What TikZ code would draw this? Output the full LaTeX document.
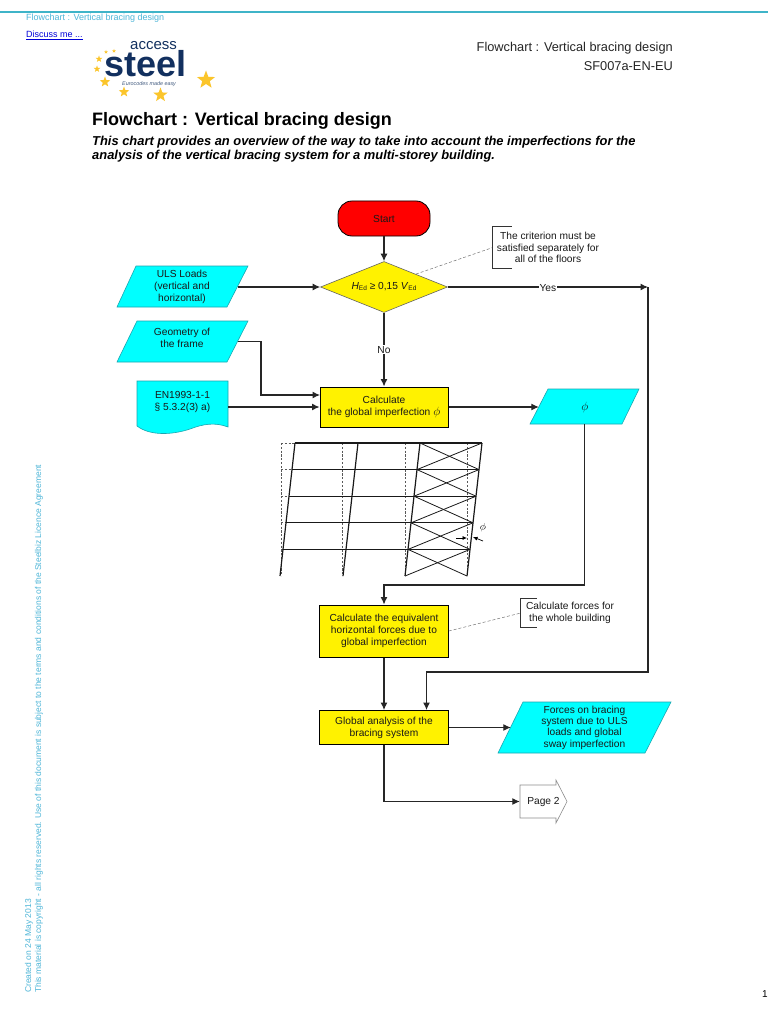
\documentclass[tikz,border=0pt]{standalone}
\usepackage{fontspec}
\setmainfont{Liberation Sans}
\usetikzlibrary{shapes.geometric,arrows.meta,calc}
\definecolor{headblue}{HTML}{4FB6D8}
\definecolor{barteal}{HTML}{3FB4C8}
\definecolor{navy}{HTML}{12305F}
\definecolor{starc}{HTML}{FBC52B}
\definecolor{cyanf}{HTML}{00FFFF}
\definecolor{cyand}{HTML}{1AA6B0}
\newcommand{\phisym}{{\fontsize{12}{12}\selectfont$\phi$}}
\tikzset{
  lab/.style={inner sep=0pt,align=center,font=\fontsize{10.2}{12}\selectfont,text=black!90},
  boxy/.style={lab,draw=black,line width=1pt,fill=yellow,minimum width=#1},
  para/.style={fill=cyanf,draw=cyand,line width=0.6pt},
  flow/.style={line width=1.1pt,draw=black!85,-{Latex[length=7.5pt,width=7pt]}},
  leader/.style={line width=0.5pt,draw=black!55,densely dashed},
  brack/.style={line width=1pt,draw=black!80},
  col/.style={line width=1.2pt,draw=black!90},
  ghost/.style={line width=0.9pt,draw=black!65,dash pattern=on 2.2pt off 1.6pt},
  starn/.style={star,star points=5,star point ratio=2.4,fill=starc,inner sep=0pt,minimum size=#1},
  head/.style={inner sep=0pt,text=headblue,font=\fontsize{9}{10}\selectfont},
}
\begin{document}
\begin{tikzpicture}[x=1pt,y=-1pt]
\useasboundingbox (0,0) rectangle (768,1024);
\fill[white] (0,0) rectangle (768,1024);
% header
\coordinate (barl) at (0,12); \coordinate (barr) at (768,12);
\draw[barteal,line width=1.2pt] (barl) -- (barr);
\node[head,anchor=west] (hd) at (26,18) {Flowchart : Vertical bracing design};
\node[head,anchor=west,text=blue!85!black] (disc) at (26,35) {\underline{Discuss me ...}};
\node[inner sep=0pt,anchor=east,font=\fontsize{12.8}{14}\selectfont,text=black!85] (hr1) at (673,48) {Flowchart : Vertical bracing design};
\node[inner sep=0pt,anchor=east,font=\fontsize{12.8}{14}\selectfont,text=black!85] (hr2) at (673,66) {SF007a-EN-EU};
% logo
\node[inner sep=0pt,anchor=base west,text=navy,font=\fontsize{15}{16}\selectfont] (lg1) at (130,49.5) {access};
\node[inner sep=0pt,anchor=base west,text=navy,font=\fontsize{36}{36}\bfseries\selectfont] (lg2) at (104.5,77) {steel};
\node[inner sep=0pt,anchor=west,text=navy!80,font=\fontsize{5.4}{6}\itshape\selectfont] (lg3) at (122,84.5) {Eurocodes made easy};
\node[starn=4] (s1) at (106,52) {}; \node[starn=4] (s2) at (114,51) {};
\node[starn=7] (s3) at (99,59) {}; \node[starn=7] (s4) at (97,69) {};
\node[starn=11] (s5) at (105,82) {}; \node[starn=11] (s6) at (124,92) {};
\node[starn=15] (s7) at (160.5,95) {}; \node[starn=19] (s8) at (206,80) {};
% title
\node[inner sep=0pt,anchor=base west,font=\fontsize{18}{20}\bfseries\selectfont] (title) at (92,126) {Flowchart : Vertical bracing design};
\node[inner sep=0pt,anchor=west,align=left,font=\fontsize{12.9}{14}\bfseries\itshape\selectfont] (sub) at (92,149)
 {This chart provides an overview of the way to take into account the imperfections for the\\analysis of the vertical bracing system for a multi-storey building.};
% margin
\node[inner sep=0pt,anchor=west,rotate=90,text=headblue,font=\fontsize{8.5}{10}\selectfont] (m1) at (29,993) {Created on 24 May 2013};
\node[inner sep=0pt,anchor=west,rotate=90,text=headblue,font=\fontsize{8.5}{10}\selectfont] (m2) at (39,993) {This material is copyright - all rights reserved. Use of this document is subject to the terms and conditions of the Steelbiz Licence Agreement};
\node[inner sep=0pt,font=\fontsize{10}{12}\selectfont] (pg) at (765,994) {1};
% shapes behind text
\path[para] (136,266) -- (248,266) -- (227,307) -- (117,307) -- cycle;
\path[para] (137,321) -- (248,321) -- (227,362) -- (117,362) -- cycle;
\path[para] (137,381) -- (228,381) -- (228,427) .. controls (215,422) and (203,424) .. (190,429) .. controls (172,435) and (150,436) .. (137,426) -- cycle;
\path[para] (548,389) -- (639,389) -- (622,424) -- (530,424) -- cycle;
\path[para] (523,702) -- (671,702) -- (645,753) -- (498,753) -- cycle;
\path[fill=white,draw=black!45,line width=0.6pt] (520,785) -- (556,785) -- (556,780) -- (567,801.5) -- (556,823) -- (556,818) -- (520,818) -- cycle;
% nodes
\node[lab,draw=black,line width=0.8pt,fill=red,rounded corners=14pt,minimum width=92pt,minimum height=35pt] (start) at (384,218.5) {Start};
\node[lab,draw=black!60,line width=0.6pt,fill=yellow,diamond,aspect=2.5,minimum width=127pt,minimum height=51pt] (crit) at (384,287)
 {\textit{H}\raisebox{-1pt}{\fontsize{6.5}{7}\selectfont Ed} ≥ 0,15 \textit{V}\raisebox{-1pt}{\fontsize{6.5}{7}\selectfont Ed}};
\node[lab,minimum width=111pt,minimum height=41pt] (uls) at (182,287) {ULS Loads\\(vertical and\\horizontal)};
\node[lab,minimum width=111pt,minimum height=41pt] (geo) at (182,341.5) {Geometry of\\the frame\\[-4pt]\mbox{}};
\node[lab,minimum width=91pt,minimum height=52pt] (en) at (182.5,407) {EN1993-1-1\\§ 5.3.2(3) a)\\\mbox{}};
\node[boxy=128pt,minimum height=40pt] (calc) at (384,407) {Calculate\\the global imperfection \phisym};
\node[lab,minimum width=91.5pt,minimum height=34pt] (phi) at (584.75,407) {\phisym};
\node[boxy=128.5pt,minimum height=52pt] (eq) at (384,631) {Calculate the equivalent\\horizontal forces due to\\global imperfection};
\node[boxy=128.5pt,minimum height=34pt] (glob) at (384,727.5) {Global analysis of the\\bracing system};
\node[lab,minimum width=147pt,minimum height=51pt,font=\fontsize{10.2}{11.4}\selectfont] (res) at (584.5,727.5) {Forces on bracing\\system  due to ULS\\loads and global\\sway imperfection};
\node[lab,minimum width=47pt,minimum height=33pt] (page) at (543.5,801.5) {Page 2};
\node[lab,minimum width=110pt,minimum height=41pt,font=\fontsize{10.2}{11.6}\selectfont] (n1) at (548,247.5) {The criterion must be\\satisfied separately for\\all of the floors};
\node[lab,minimum width=98pt,minimum height=28pt] (n2) at (570,613) {Calculate forces for\\the whole building};
% connectors
\coordinate (yc) at (648,287);
\coordinate (yd) at (648,672);
\coordinate (gin) at ($(glob.north)+(42.5,0)$);
\coordinate (tg) at (261,395);
\coordinate (cin) at (320,395);
\coordinate (tp) at (384,585);
\draw[flow] (start) -- (crit);
\draw[flow] (uls.east) -- (crit.west);
\draw[flow] (crit.south) -- node[lab,fill=white,inner ysep=1pt,inner xsep=0pt] (no) {No} (calc.north);
\draw[flow] (crit.east) -- node[lab,fill=white,inner ysep=0pt,inner xsep=0.5pt,yshift=-1pt] (yes) {Yes} (yc);
\draw[flow] (geo.east) -| (tg) -- (cin);
\draw[flow] (en.east) -- (calc.west);
\draw[flow] (calc.east) -- (phi.west);
\draw[flow] (phi.south) |- (tp) -- (eq.north);
\draw[flow] (eq.south) -- (glob.north);
\draw[flow] (yc) -- (yd) -| (gin);
\draw[flow] (glob.east) -- (res.west);
\draw[flow] (glob.south) |- (page.west);
\draw[leader] (crit.north east) -- (n1.west);
\draw[leader] (eq.east) -- (n2.west);
\draw[brack] ($(n1.north west)+(19,0)$) -- (n1.north west) -- (n1.south west) -- ($(n1.south west)+(19,0)$);
\draw[brack] ($(n2.north west)+(16,0)$) -- (n2.north west) -- (n2.south west) -- ($(n2.south west)+(16,0)$);
% frame
\coordinate (a1) at (295,443); \coordinate (b1) at (280,576);
\coordinate (a2) at (358,443); \coordinate (b2) at (343,576);
\coordinate (a3) at (420,443); \coordinate (b3) at (405,576);
\coordinate (a4) at (482,443); \coordinate (b4) at (467,576);
\coordinate (g1a) at (281,443); \coordinate (g1b) at (281,576);
\coordinate (g2a) at (342,443); \coordinate (g2b) at (342,576);
\coordinate (g3a) at (405,443); \coordinate (g3b) at (405,576);
\coordinate (g4a) at (467,443); \coordinate (g4b) at (467,576);
\foreach \i in {1,2,3,4}{\draw[ghost] (g\i a) -- (g\i b);}
\draw[ghost] (g1a) -- (a4);
\foreach \t in {0.2,0.4,0.6,0.8}{\draw[ghost] ($(g1a)!\t!(g1b)$) -- ($(a1)!\t!(b1)$);}
\foreach \i in {1,2,3,4}{\draw[col] (a\i) -- (b\i);}
\foreach \t in {0,0.2,0.4,0.6,0.8}{\draw[col] ($(a1)!\t!(b1)$) -- ($(a4)!\t!(b4)$);}
\foreach \t/\u in {0/0.2,0.2/0.4,0.4/0.6,0.6/0.8,0.8/1}{
  \draw[line width=0.8pt,black!90] ($(a3)!\t!(b3)$) -- ($(a4)!\u!(b4)$);
  \draw[line width=0.8pt,black!90] ($(a4)!\t!(b4)$) -- ($(a3)!\u!(b3)$);}
\coordinate (p1) at (456,538); \coordinate (p2) at (467,538);
\coordinate (p3) at (483,541); \coordinate (p4) at (473,537);
\draw[line width=0.7pt,-{Latex[length=4.5pt,width=4pt]}] (p1) -- (p2);
\draw[line width=0.7pt,-{Latex[length=4.5pt,width=4pt]}] (p3) -- (p4);
\node[inner sep=0pt,rotate=-10,font=\fontsize{10}{10}\selectfont] (philab) at (483,528) {$\phi$};
\end{tikzpicture}
\end{document}
